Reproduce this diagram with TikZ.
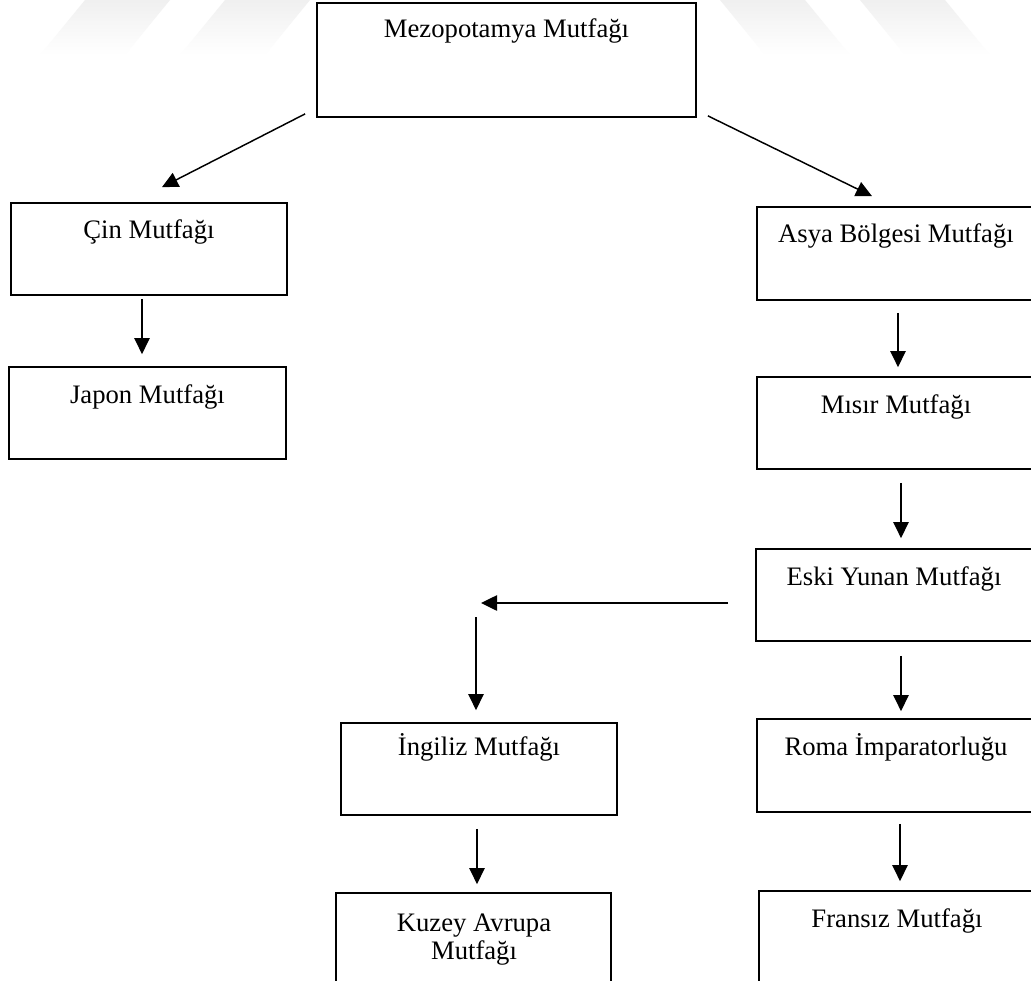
\documentclass[tikz,border=0pt]{standalone}
\usepackage{fontspec}
\setmainfont{Liberation Serif}
\usetikzlibrary{arrows.meta,fit,calc}
\tikzset{
  box/.style={draw, line width=1.3pt, fill=white, inner sep=0pt},
  lbl/.style={inner sep=0pt, anchor=base, font=\fontsize{20pt}{21pt}\selectfont},
  arr/.style={line width=1.1pt, -{Triangle[length=12pt,width=11.5pt]}},
  wm/.style={top color=gray!12, bottom color=white, draw=none}
}
\begin{document}
\begin{tikzpicture}[x=0.75pt,y=-0.75pt]
\clip (0,0) rectangle (1031,981);
\fill[white] (0,0) rectangle (1031,981);
% faint watermark
\shade[wm] (40,55) -- (125,55) -- (170,0) -- (85,0) -- cycle;
\shade[wm] (180,55) -- (265,55) -- (310,0) -- (225,0) -- cycle;
\shade[wm] (990,55) -- (905,55) -- (860,0) -- (945,0) -- cycle;
\shade[wm] (850,55) -- (765,55) -- (720,0) -- (805,0) -- cycle;
% boxes
\node[box, fit={(317,3) (696,117)}] (mez) {};
\node[box, fit={(11,203) (287,295)}] (cin) {};
\node[box, fit={(9,367) (286,459)}] (jap) {};
\node[box, fit={(757,207) (1035,300)}] (asya) {};
\node[box, fit={(757,377) (1035,469)}] (mis) {};
\node[box, fit={(756,549) (1035,641)}] (eski) {};
\node[box, fit={(757,719) (1035,812)}] (roma) {};
\node[box, fit={(759,891) (1035,1000)}] (fra) {};
\node[box, fit={(341,723) (617,815)}] (ing) {};
\node[box, fit={(336,893) (611,1000)}] (kuz) {};
% texts
\node[lbl] (mezt) at (506.5,38) {Mezopotamya Mutfağı};
\node[lbl] (cint) at (149,238) {Çin Mutfağı};
\node[lbl] (japt) at (147.5,403) {Japon Mutfağı};
\node[lbl] (asyat) at (896,242) {Asya Bölgesi Mutfağı};
\node[lbl] (mist) at (896,413) {Mısır Mutfağı};
\node[lbl] (eskit) at (894,585) {Eski Yunan Mutfağı};
\node[lbl] (romat) at (896,755) {Roma İmparatorluğu};
\node[lbl] (frat) at (897,927) {Fransız Mutfağı};
\node[lbl] (ingt) at (479,755) {İngiliz Mutfağı};
\node[lbl, anchor=north, align=center] (kuzt) at (474,914) {Kuzey Avrupa\\Mutfağı};
% connectors
\coordinate (elbowA) at (481,603);
\coordinate (elbowB) at (476,617);
\draw[arr] ($(mez.south west)+(-11,-4)$) -- ($(cin.north)+(13,-15)$);
\draw[arr] ($(mez.south east)+(11,-2)$) -- ($(asya.north)+(-24,-10)$);
\draw[arr] ($(cin.south)+(-7,3)$) -- ($(jap.north)+(-5.5,-12)$);
\draw[arr] ($(asya.south)+(2,12)$) -- ($(mis.north)+(2,-9)$);
\draw[arr] ($(mis.south)+(5,13)$) -- ($(eski.north)+(5.5,-10)$);
\draw[arr] ($(eski.west)+(-27,8)$) -- (elbowA);
\draw[arr] (elbowB) -- ($(ing.north)+(-3,-12)$);
\draw[arr] ($(eski.south)+(5.5,14)$) -- ($(roma.north)+(5,-7)$);
\draw[arr] ($(ing.south)+(-2,13)$) -- ($(kuz.north)+(3.5,-8)$);
\draw[arr] ($(roma.south)+(4,11)$) -- ($(fra.north)+(3,-9)$);
\end{tikzpicture}
\end{document}
